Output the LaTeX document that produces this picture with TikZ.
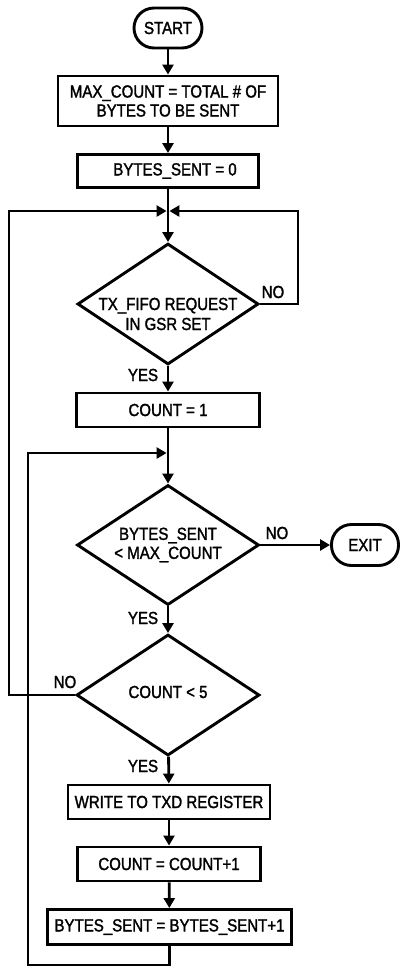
\documentclass[tikz,border=0pt]{standalone}
\usepackage{fontspec}
\setmainfont{Liberation Sans}[FakeStretch=0.86,FakeBold=1.6]
\usetikzlibrary{arrows.meta,shapes.geometric}
\begin{document}
\begin{tikzpicture}[x=1bp,y=-1bp,
  font=\fontsize{17.5bp}{19bp}\selectfont,
  line/.style={line width=2.8bp},
  arr/.style={line width=2.8bp,-{Triangle[length=10bp,width=11bp]}},
  box/.style={draw,line width=2.9bp,rectangle,inner sep=0pt,align=center},
  term/.style={draw,line width=2.9bp,rectangle,rounded corners=20bp,inner sep=0pt},
  dia/.style={draw,line width=2.9bp,diamond,inner sep=0pt},
  lbl/.style={inner sep=0pt}]
\useasboundingbox (0,0) rectangle (403,968);
% nodes
\node[term,minimum width=68bp,minimum height=40bp] (start) at (168,28) {START};
\node[box,minimum width=220bp,minimum height=50bp] (b1) at (168,101) {MAX\_COUNT = TOTAL \# OF\\BYTES TO BE SENT};
\node[box,minimum width=181bp,minimum height=33bp] (b2) at (168,171) {\hspace{14bp}BYTES\_SENT = 0};
\node[dia,minimum width=181bp,minimum height=121bp] (d1) at (168,304) {};
\node[lbl,align=center,font=\fontsize{17.5bp}{20bp}\selectfont] (t1) at (168,314) {TX\_FIFO REQUEST\\IN GSR SET};
\node[box,minimum width=183bp,minimum height=34bp] (b3) at (168,410) {COUNT = 1};
\node[dia,minimum width=182bp,minimum height=120bp] (d2) at (168,545) {};
\node[lbl,align=center] (t2) at (168,545) {BYTES\_SENT\\< MAX\_COUNT};
\node[term,minimum width=67bp,minimum height=41bp] (exit) at (365,545) {EXIT};
\node[dia,minimum width=183bp,minimum height=121bp] (d3) at (168,695) {};
\node[lbl] (t3) at (168,692) {COUNT < 5};
\node[box,minimum width=202bp,minimum height=34bp] (b4) at (169,802) {WRITE TO TXD REGISTER};
\node[box,minimum width=183bp,minimum height=34bp] (b5) at (169,864) {COUNT = COUNT+1};
\node[box,minimum width=244bp,minimum height=35bp] (b6) at (169.5,927) {BYTES\_SENT = BYTES\_SENT+1};
% labels
\node[lbl] (no1) at (273,292) {NO};
\node[lbl] (yes1) at (143,375) {YES};
\node[lbl] (no2) at (277,533) {NO};
\node[lbl] (yes2) at (143,618) {YES};
\node[lbl] (no3) at (65,682) {NO};
\node[lbl] (yes3) at (143,766) {YES};
% junction coordinates
\coordinate (j1) at (168,211);
\coordinate (j2) at (168,453);
\coordinate (rloop) at (298,211);
\coordinate (lloop) at (9,211);
\coordinate (bl) at (28,965);
% connectors
\draw[arr] (start) -- (b1);
\draw[arr] (b1) -- (b2);
\draw[arr] (b2) -- (d1);
\draw[arr,shorten >=1.4bp] (d1.east) -| (rloop) -- (j1);
\draw[arr,shorten >=1.4bp] (d3.west) -| (lloop) -- (j1);
\draw[arr] (d1) -- (b3);
\draw[arr] (b3) -- (d2);
\draw[arr] (d2) -- (exit);
\draw[arr] (d2) -- (d3);
\draw[arr] (d3) -- (b4);
\draw[arr] (b4) -- (b5);
\draw[arr] (b5) -- (b6);
\draw[arr,shorten >=1.4bp] (b6.south) |- (bl) |- (j2);
\end{tikzpicture}
\end{document}
